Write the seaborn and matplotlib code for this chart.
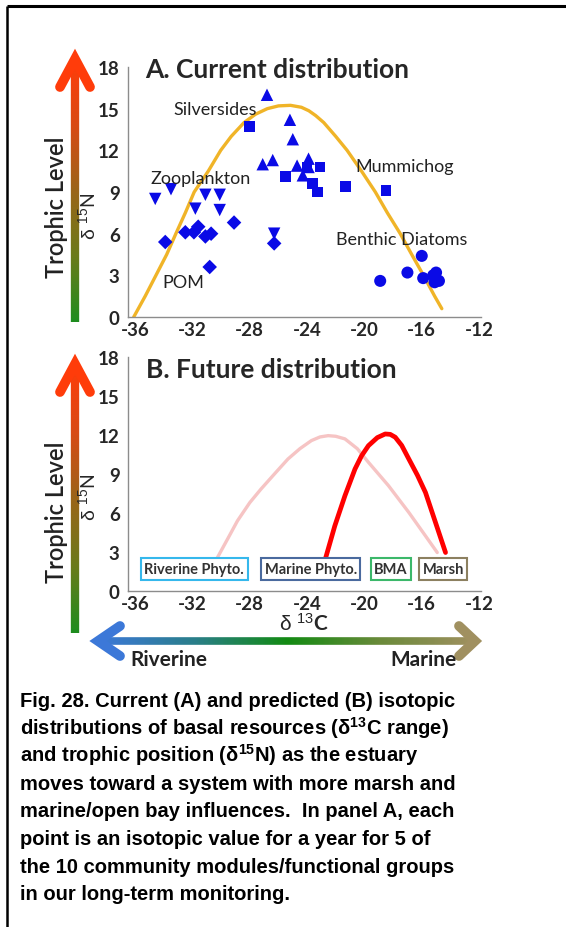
import numpy as np
import pandas as pd
import matplotlib
matplotlib.use("Agg")
import matplotlib.pyplot as plt
from matplotlib.collections import LineCollection
from matplotlib.colors import LinearSegmentedColormap
import seaborn as sns

# ── Panel A data (d13C, d15N) ─────────────────────────────────────────────────
POM_X = [-33.9, -32.5, -31.9, -31.6, -31.1, -30.7, -30.8, -29.1, -26.3]
POM_Y = [5.4, 6.1, 6.1, 6.5, 5.8, 6.0, 3.6, 6.8, 5.3]
ZOO_X = [-34.6, -33.5, -31.8, -31.1, -30.1, -30.1, -26.3]
ZOO_Y = [8.5, 9.2, 7.8, 8.8, 8.8, 7.7, 6.0]
SILV_X = [-26.8, -25.2, -25.0, -27.1, -26.4, -24.7, -24.3, -23.9, -23.9]
SILV_Y = [16.0, 14.2, 12.8, 11.0, 11.3, 10.9, 10.2, 11.4, 10.8]
MUMM_X = [-28.0, -25.5, -24.0, -23.1, -23.6, -23.3, -21.3, -18.5]
MUMM_Y = [13.7, 10.1, 10.8, 10.8, 9.6, 9.0, 9.4, 9.1]
DIAT_X = [-18.9, -17.0, -16.0, -15.9, -15.2, -15.0, -14.8, -15.1]
DIAT_Y = [2.6, 3.2, 4.4, 2.8, 3.0, 3.2, 2.6, 2.5]
GROUPS = ["POM", "Zooplankton", "Silversides", "Mummichog", "Benthic Diatoms"]

# current food-web envelope (gold curve)
GOLD_X = [-36.1, -35.3, -34.55, -33.8, -33.16, -32.5, -31.88, -30.9, -30.03,
          -29.3, -28.4, -27.6, -26.78, -26.0, -25.16, -24.4, -23.88, -23.4,
          -22.84, -22.0, -21.21, -20.2, -19.24, -18.4, -17.5, -16.7, -15.88,
          -15.1, -14.6]
GOLD_Y = [0.0, 1.5, 3.0, 4.5, 6.0, 7.5, 9.0, 10.5, 12.0,
          13.0, 14.0, 14.6, 15.0, 15.2, 15.24, 15.1, 14.85, 14.5,
          14.0, 13.0, 12.0, 10.5, 9.0, 7.5, 6.0, 4.5, 3.0,
          1.5, 0.6]

# ── Panel B data ──────────────────────────────────────────────────────────────
PINK_X = [-30.26, -29.5, -28.86, -28.0, -27.22, -26.2, -25.34, -24.5, -23.7,
          -23.1, -22.53, -22.0, -21.36, -20.5, -19.72, -18.32, -16.9, -15.74,
          -14.92]
PINK_Y = [2.57, 4.1, 5.4, 6.8, 7.84, 9.1, 10.15, 10.95, 11.57,
          11.85, 11.95, 11.9, 11.7, 10.95, 9.9, 8.1, 6.04, 4.24,
          2.96]
RED_X = [-22.77, -22.07, -21.36, -20.66, -20.2, -19.72, -19.1, -18.55, -18.2,
         -17.85, -17.4, -16.9, -16.3, -15.74, -15.04, -14.34]
RED_Y = [2.3, 5.0, 7.33, 9.38, 10.4, 11.18, 11.8, 12.08, 12.05,
         11.83, 11.2, 10.15, 8.9, 7.58, 5.27, 2.96]
SOURCES = ["Riverine Phyto.", "Marine Phyto.", "BMA", "Marsh"]
SOURCE_COLORS = ["#35b8ec", "#4a6a9e", "#3cb86a", "#8c8060"]

X_TICKS = [-36, -32, -28, -24, -20, -16, -12]
Y_TICKS = [0, 3, 6, 9, 12, 15, 18]

CAPTION = [
    "Fig. 28. Current (A) and predicted (B) isotopic",
    r"distributions of basal resources ($\mathbf{\delta}^{\mathbf{13}}$C range)",
    r"and trophic position ($\mathbf{\delta}^{\mathbf{15}}$N) as the estuary",
    "moves toward a system with more marsh and",
    "marine/open bay influences.  In panel A, each",
    "point is an isotopic value for a year for 5 of",
    "the 10 community modules/functional groups",
    "in our long-term monitoring.",
]

# ── Style ─────────────────────────────────────────────────────────────────────
sns.set_style("white")
plt.rcParams["font.family"] = ["Lato", "DejaVu Sans"]
plt.rcParams["mathtext.fontset"] = "custom"
plt.rcParams["mathtext.rm"] = "Liberation Sans"
plt.rcParams["mathtext.it"] = "Liberation Sans"
plt.rcParams["mathtext.bf"] = "Liberation Sans:bold"

W, H = 566, 928
fig = plt.figure(figsize=(W / 100, H / 100), dpi=100)

# overlay in pixel coordinates for arrows / border / caption
ov = fig.add_axes([0, 0, 1, 1], zorder=0)
ov.set_xlim(0, W)
ov.set_ylim(H, 0)
ov.axis("off")


def px_axes(left, top, right, bottom):
    return fig.add_axes([left / W, 1 - bottom / H, (right - left) / W, (bottom - top) / H],
                        zorder=2)


def style_axes(ax):
    ax.set_facecolor("none")
    ax.set_xlim(-36.5, -11.9)
    ax.set_ylim(0, 18)
    ax.set_xticks(X_TICKS)
    ax.set_yticks(Y_TICKS)
    ax.set_xticklabels([str(t) for t in X_TICKS])
    for s in ("top", "right"):
        ax.spines[s].set_visible(False)
    for s in ("left", "bottom"):
        ax.spines[s].set_color("#8c8c8c")
        ax.spines[s].set_linewidth(1.0)
    ax.tick_params(axis="y", length=4, color="#8c8c8c", width=1, pad=2,
                   labelsize=13.5)
    ax.tick_params(axis="x", length=0, pad=3, labelsize=13.5)
    for lab in ax.get_xticklabels() + ax.get_yticklabels():
        lab.set_fontweight("bold")


def ylab(ax):
    ax.set_ylabel(r"$\delta\ ^{15}$N", fontsize=14)
    ax.yaxis.set_label_coords(-0.085, 0.405)


# ── Panel A ───────────────────────────────────────────────────────────────────
axA = px_axes(128, 68, 480.5, 318)
style_axes(axA)
df_a = pd.DataFrame({
    "d13c": POM_X + ZOO_X + SILV_X + MUMM_X + DIAT_X,
    "d15n": POM_Y + ZOO_Y + SILV_Y + MUMM_Y + DIAT_Y,
    "group": (["POM"] * len(POM_X) + ["Zooplankton"] * len(ZOO_X)
              + ["Silversides"] * len(SILV_X) + ["Mummichog"] * len(MUMM_X)
              + ["Benthic Diatoms"] * len(DIAT_X)),
})
markers = {"POM": "D", "Zooplankton": "v", "Silversides": "^",
           "Mummichog": "s", "Benthic Diatoms": "o"}
msizes = {"POM": 55, "Zooplankton": 80, "Silversides": 80,
          "Mummichog": 60, "Benthic Diatoms": 75}
sns.lineplot(x=GOLD_X, y=GOLD_Y, sort=False, estimator=None, color="#f0b428",
             linewidth=2.4, ax=axA, zorder=2)
sns.scatterplot(data=df_a, x="d13c", y="d15n", style="group", markers=markers,
                size="group", sizes=msizes, color="#0a0ae6", linewidth=0,
                legend=False, ax=axA, zorder=3)
axA.set_xlabel("")
ylab(axA)

group_label_pos = {"Silversides": (-33.3, 15.0), "Zooplankton": (-34.9, 10.0),
                   "Mummichog": (-20.6, 10.9), "Benthic Diatoms": (-22.0, 5.6),
                   "POM": (-34.1, 2.5)}
for g in GROUPS:
    gx, gy = group_label_pos[g]
    axA.text(gx, gy, g, fontsize=13, color="#222222", ha="left", va="center", zorder=4)
axA.text(0.048, 0.99, "A. Current distribution", transform=axA.transAxes,
         fontsize=19, fontweight="bold", ha="left", va="center")

# ── Panel B ───────────────────────────────────────────────────────────────────
axB = px_axes(128, 358, 480.5, 592)
style_axes(axB)
sns.lineplot(x=PINK_X, y=PINK_Y, sort=False, estimator=None, color="#f6c4c4",
             linewidth=2.4, ax=axB, zorder=2)
sns.lineplot(x=RED_X, y=RED_Y, sort=False, estimator=None, color="#ff0000",
             linewidth=3.4, ax=axB, zorder=3)
ylab(axB)
axB.set_xlabel(r"$\delta\ ^{13}$C", fontsize=15, fontweight="bold", labelpad=0)
axB.text(0.05, 0.95, "B. Future distribution", transform=axB.transAxes,
         fontsize=19, fontweight="bold", ha="left", va="center")
source_pos = [(-31.88, 1.7), (-23.75, 1.7), (-18.14, 1.7), (-14.51, 1.7)]
for (sx, sy), name, col in zip(source_pos, SOURCES, SOURCE_COLORS):
    axB.text(sx, sy, name, fontsize=10.5, fontweight="bold", color="#333333",
             ha="center", va="center", zorder=4,
             bbox=dict(boxstyle="square,pad=0.25", fc="white", ec=col, lw=1.5))


# ── Gradient arrows ───────────────────────────────────────────────────────────
def grad_line(x0, y0, x1, y1, colors, lw, n=300):
    cmap = LinearSegmentedColormap.from_list("g", colors)
    t = np.linspace(0, 1, n + 1)
    xs = x0 + (x1 - x0) * t
    ys = y0 + (y1 - y0) * t
    segs = [[(xs[i], ys[i]), (xs[i + 1], ys[i + 1])] for i in range(n)]
    lc = LineCollection(segs, colors=cmap(t[:-1]), linewidths=lw, capstyle="butt")
    ov.add_collection(lc)


def chevron(tx, ty, dx, dy, color, lw):
    ov.plot([tx + dx[0], tx, tx + dx[1]], [ty + dy[0], ty, ty + dy[1]], color=color,
            lw=lw, solid_capstyle="round", solid_joinstyle="miter")


vert_cols = ["#1e8c1e", "#6a7a1a", "#9a6418", "#d84a14", "#ff3c0a"]
for top, bot in ((57, 323), (362, 634)):
    grad_line(75, bot, 75, top + 4, vert_cols, 6)
    chevron(75, top + 3, (-15, 15), (28, 28), "#ff3c0a", 7)

horiz_cols = ["#3c78d8", "#2a7e8a", "#128a12", "#6a8a3a", "#a09060"]
grad_line(99, 642, 474, 642, horiz_cols, 5.5)
chevron(98, 642, (22, 22), (-15, 15), "#3c78d8", 7)
chevron(475, 642, (-16, -16), (-15, 15), "#a09060", 7)

for cy in (207, 512):
    ov.text(57, cy, "Trophic Level", rotation=90, fontsize=17, fontweight="semibold",
            ha="center", va="center", color="#222222")
ov.text(130, 660, "Riverine", fontsize=15, fontweight="bold", ha="left",
        va="center", color="#222222")
ov.text(457, 660, "Marine", fontsize=15, fontweight="bold", ha="right",
        va="center", color="#222222")

# ── Border and caption ────────────────────────────────────────────────────────
ov.plot([7, W], [7, 7], color="black", lw=2.2, solid_capstyle="butt")
ov.plot([7, 7], [7, H], color="black", lw=1.8, solid_capstyle="butt")
for i, line in enumerate(CAPTION):
    ov.text(20, 707 + 27.6 * i, line, fontsize=14.5, fontweight="bold",
            family="Liberation Sans", ha="left", va="baseline", color="black")

fig.savefig("out.png", dpi=100)
